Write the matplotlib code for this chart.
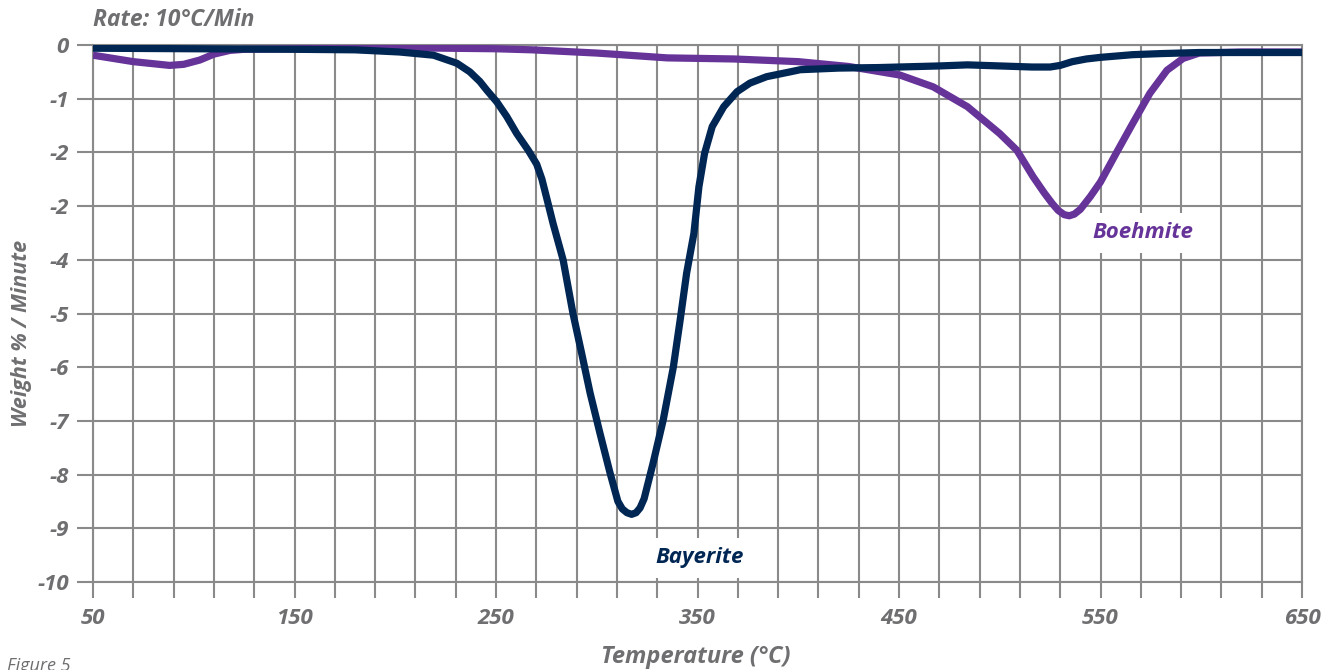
import numpy as np
import matplotlib
matplotlib.use("Agg")
import matplotlib.pyplot as plt

# ---- data ----
bayerite_t = [50, 100, 150, 180, 202, 219, 230.6, 237, 242, 245.4, 250.4, 255.3, 260.3, 266, 270.2,
              272.8, 275.5, 278.3, 283.3, 288.2, 292.5, 296.7, 301.6, 306.6, 310.5, 312.7, 315,
              317.3, 319.5, 321.5, 323.5, 328, 333, 338, 341.4, 344.6, 348.2, 350.7, 353.5, 357.3,
              363, 369.6, 376, 384.3, 396, 401, 420, 440, 450, 470, 484, 500, 516, 525, 530, 536,
              543, 550, 566, 580, 599, 650]
bayerite_v = [-0.06, -0.07, -0.08, -0.09, -0.13, -0.19, -0.34, -0.50, -0.68, -0.84, -1.06, -1.33,
              -1.65, -1.96, -2.22, -2.5, -2.9, -3.32, -4.0, -5.0, -5.74, -6.48, -7.23, -7.97, -8.50,
              -8.64, -8.71, -8.74, -8.71, -8.62, -8.45, -7.78, -6.98, -6.0, -5.12, -4.25, -3.51,
              -2.64, -2.02, -1.52, -1.15, -0.87, -0.71, -0.59, -0.50, -0.46, -0.43, -0.42, -0.41,
              -0.39, -0.37, -0.39, -0.41, -0.41, -0.38, -0.31, -0.26, -0.23, -0.18, -0.16, -0.14,
              -0.14]

boehmite_t = [50, 70, 88, 95, 103, 110, 118, 125, 150, 190, 202, 250, 268, 300, 335, 368, 400, 425,
              450.5, 467, 484, 500, 508.5, 516.5, 522, 526, 529, 532, 534.5, 537, 540, 545, 550,
              558, 566, 574.5, 583, 591, 599, 620, 650]
boehmite_v = [-0.19, -0.31, -0.38, -0.36, -0.28, -0.17, -0.10, -0.08, -0.07, -0.05, -0.05, -0.07,
              -0.09, -0.15, -0.24, -0.26, -0.31, -0.40, -0.56, -0.78, -1.15, -1.65, -1.96, -2.45,
              -2.75, -2.95, -3.08, -3.16, -3.18, -3.15, -3.06, -2.82, -2.55, -2.0, -1.46, -0.9,
              -0.47, -0.25, -0.15, -0.13, -0.13]

x_grid = list(range(50, 651, 20))
x_labels = ["50", "150", "250", "350", "450", "550", "650"]
y_ticks = [0, -1, -2, -3, -4, -5, -6, -7, -8, -9, -10]
y_labels = ["0", "-1", "-2", "-2", "-4", "-5", "-6", "-7", "-8", "-9", "-10"]

NAVY = "#002654"
PURPLE = "#663399"
GRID = "#8a8a8a"
TXT = "#6f6f72"
FONT = "Open Sans"

fig = plt.figure(figsize=(13.33, 6.70), dpi=100)
W, H = 1333, 670
ax = fig.add_axes([93 / W, 1 - 582 / H, (1302 - 93) / W, (582 - 45) / H])

ax.set_xlim(50, 650)
ax.set_ylim(-10, 0)

xt_labels = [str(v) if str(v) in x_labels else "" for v in x_grid]
ax.set_xticks(x_grid, labels=xt_labels)
ax.set_yticks(y_ticks, labels=y_labels)
ax.grid(True, color=GRID, linewidth=1.5, zorder=0)
for s in ax.spines.values():
    s.set_color(GRID)
    s.set_linewidth(1.5)
ax.tick_params(axis="both", direction="out", length=11.5, width=1.5, color=GRID,
               labelcolor=TXT, labelsize=16)
ax.tick_params(axis="x", pad=7)
ax.tick_params(axis="y", pad=6)
for lab in ax.get_xticklabels() + ax.get_yticklabels():
    lab.set_fontfamily(FONT)
    lab.set_fontweight("bold")
    lab.set_fontstyle("italic")

ax.plot(boehmite_t, boehmite_v, color=PURPLE, linewidth=5.2, solid_joinstyle="round",
        solid_capstyle="butt", zorder=3)
ax.plot(bayerite_t, bayerite_v, color=NAVY, linewidth=5.2, solid_joinstyle="round",
        solid_capstyle="butt", zorder=4)

lab_kw = dict(fontfamily=FONT, fontweight="bold", fontstyle="italic", fontsize=16,
              ha="center", va="center", zorder=5)
ax.text(351, -9.55, "Bayerite", color=NAVY,
        bbox=dict(facecolor="white", edgecolor="none", pad=7), **lab_kw)
ax.text(571, -3.5, "Boehmite", color=PURPLE,
        bbox=dict(facecolor="white", edgecolor="none", pad=7), **lab_kw)

fig.text(93 / W, 1 - 20 / H, "Rate: 10°C/Min", color=TXT, fontfamily=FONT, fontweight="bold",
         fontstyle="italic", fontsize=16.5, ha="left", va="center")
fig.text(696 / W, 1 - 657 / H, "Temperature (°C)", color=TXT, fontfamily=FONT, fontweight="bold",
         fontstyle="italic", fontsize=17, ha="center", va="center")
fig.text(22 / W, 1 - 333 / H, "Weight % / Minute", color=TXT, fontfamily=FONT, fontweight="bold",
         fontstyle="italic", fontsize=15.5, ha="center", va="center", rotation=90)
fig.text(7 / W, 1 - 657 / H, "Figure 5", color=TXT, fontfamily=FONT, fontstyle="italic",
         fontsize=13, ha="left", va="top")

fig.savefig("out.png", dpi=100)
